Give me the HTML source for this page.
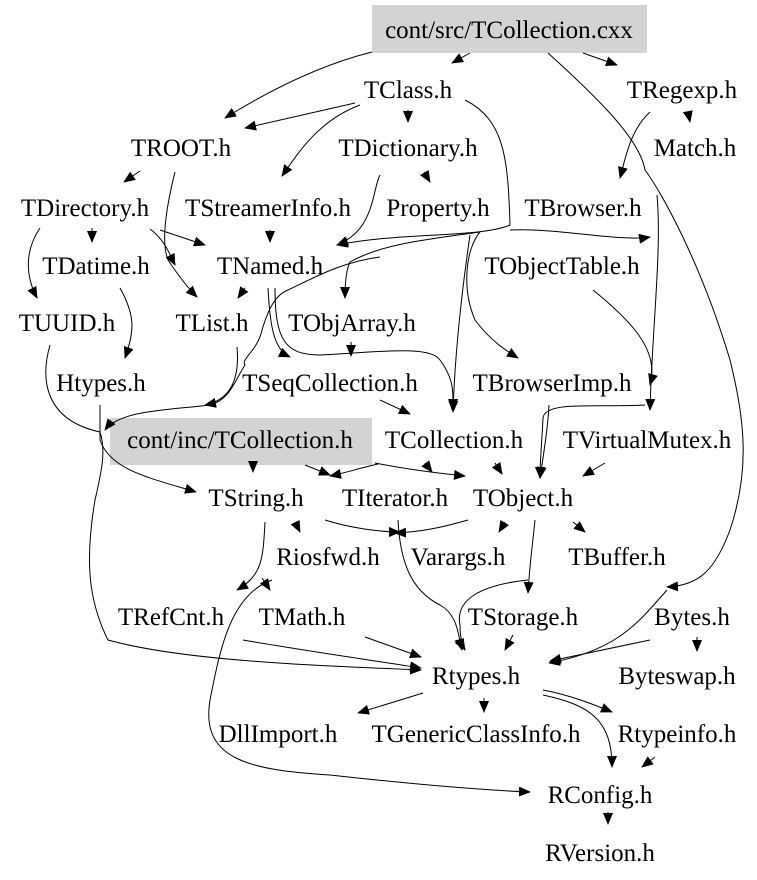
<!DOCTYPE html>
<html><head><meta charset="utf-8"><style>
html,body{margin:0;padding:0;background:#fff;}
svg{display:block;}
text{font-family:"Liberation Serif",serif;font-size:25px;fill:#000;text-anchor:middle;}
path{fill:none;stroke:#000;stroke-width:1;}
</style></head><body>
<svg width="757" height="880" viewBox="0 0 757 880" xmlns="http://www.w3.org/2000/svg">
<defs><marker id="a" markerWidth="12" markerHeight="10" refX="11" refY="5" orient="auto" markerUnits="userSpaceOnUse"><path d="M0,0 L12,5 L0,10 Z" style="fill:#000;stroke:none"/></marker></defs>
<rect x="372" y="5" width="275" height="48" fill="#d3d3d3"/>
<rect x="110" y="418" width="262" height="47" fill="#d3d3d3"/>
<g marker-end="url(#a)">
<path d="M372,52 C320,65 270,90 225,118"/>
<path d="M470,53 L452,63"/>
<path d="M583,53 L617,65"/>
<path d="M548,53 C600,100 640,140 645,170 C660,190 700,260 730,360 C745,420 750,470 730,530 C715,570 700,585 667,587"/>
<path d="M667,590 C640,620 620,650 549,663"/>
<path d="M355,103 L245,128"/>
<path d="M360,105 C320,120 300,150 282,176"/>
<path d="M408,110 L408,122"/>
<path d="M465,100 C505,120 508,160 510,225 C480,238 400,232 337,245"/>
<path d="M380,175 C372,190 375,230 337,245"/>
<path d="M424,172 L430,182"/>
<path d="M688,112 L690,122"/>
<path d="M650,112 C630,130 625,160 620,178"/>
<path d="M140,171 L124,182"/>
<path d="M175,172 C168,200 160,240 168,260 C180,278 190,290 197,297"/>
<path d="M92,228 L92,242"/>
<path d="M40,228 C25,250 25,275 37,298"/>
<path d="M160,230 L205,245"/>
<path d="M150,229 C165,240 170,255 175,265"/>
<path d="M270,230 L270,242"/>
<path d="M245,288 L238,298"/>
<path d="M268,288 C270,330 275,350 290,357"/>
<path d="M275,288 C275,340 285,355 320,355 C380,352 430,345 440,360 C455,380 453,395 453,410"/>
<path d="M351,342 L351,356"/>
<path d="M480,232 C420,240 380,245 350,262 C346,270 345,285 345,298"/>
<path d="M510,230 C560,228 620,242 650,237"/>
<path d="M657,195 C662,250 652,330 650,410"/>
<path d="M480,232 C465,250 462,290 475,320 C490,340 505,350 518,358"/>
<path d="M470,235 C462,290 455,350 453,412"/>
<path d="M380,257 C340,262 310,280 288,290 C275,295 268,310 262,330 C258,350 240,360 245,365 C235,380 230,400 210,405 C170,410 120,410 105,430"/>
<path d="M593,290 C630,320 660,350 650,385"/>
<path d="M645,405 C600,408 545,400 543,418 C542,440 540,460 540,478"/>
<path d="M549,405 C548,425 545,445 540,478"/>
<path d="M50,345 C40,380 45,420 100,432 C106,450 102,470 95,500 C85,560 88,600 108,640 C180,660 300,665 421,670"/>
<path d="M100,405 L100,440 C110,470 150,478 196,492"/>
<path d="M120,288 C135,315 135,330 125,358"/>
<path d="M237,347 C240,380 230,400 205,405"/>
<path d="M380,400 L410,414"/>
<path d="M253,462 L253,472"/>
<path d="M305,465 L330,475"/>
<path d="M378,464 C360,468 345,473 330,476"/>
<path d="M375,463 C400,468 425,472 465,476"/>
<path d="M425,463 L432,472"/>
<path d="M495,463 L502,474"/>
<path d="M605,463 L583,476"/>
<path d="M295,522 L300,532"/>
<path d="M265,522 C263,560 262,575 237,590"/>
<path d="M262,578 L270,590"/>
<path d="M272,580 C230,595 220,650 210,700 C200,760 250,770 330,775 C420,785 480,790 530,792"/>
<path d="M325,520 C350,528 380,532 400,532"/>
<path d="M468,520 C440,528 420,532 395,533"/>
<path d="M398,520 C400,560 410,590 440,605 C458,615 458,635 462,650"/>
<path d="M505,522 L499,532"/>
<path d="M573,522 L585,532"/>
<path d="M535,520 C532,550 530,560 528,593"/>
<path d="M528,580 C480,585 455,600 460,625 C460,638 462,645 465,650"/>
<path d="M513,635 L505,650"/>
<path d="M243,640 C300,650 370,660 421,668"/>
<path d="M365,637 L421,657"/>
<path d="M650,640 L550,661"/>
<path d="M697,637 L697,651"/>
<path d="M423,693 L358,713"/>
<path d="M484,698 L484,712"/>
<path d="M543,690 C570,695 595,705 612,712"/>
<path d="M543,695 C590,705 612,720 612,767"/>
<path d="M655,757 L642,767"/>
<path d="M608,812 L608,824"/>
</g>
<text x="509" y="38">cont/src/TCollection.cxx</text>
<text x="408" y="98">TClass.h</text>
<text x="682" y="98">TRegexp.h</text>
<text x="181" y="156">TROOT.h</text>
<text x="408" y="156">TDictionary.h</text>
<text x="695" y="156">Match.h</text>
<text x="85" y="216">TDirectory.h</text>
<text x="268" y="216">TStreamerInfo.h</text>
<text x="438" y="216">Property.h</text>
<text x="583" y="216">TBrowser.h</text>
<text x="96" y="274">TDatime.h</text>
<text x="270" y="274">TNamed.h</text>
<text x="562" y="274">TObjectTable.h</text>
<text x="67" y="331">TUUID.h</text>
<text x="212" y="331">TList.h</text>
<text x="352" y="331">TObjArray.h</text>
<text x="101" y="391">Htypes.h</text>
<text x="330" y="391">TSeqCollection.h</text>
<text x="552" y="391">TBrowserImp.h</text>
<text x="240" y="448">cont/inc/TCollection.h</text>
<text x="454" y="448">TCollection.h</text>
<text x="647" y="448">TVirtualMutex.h</text>
<text x="256" y="506">TString.h</text>
<text x="395" y="506">TIterator.h</text>
<text x="523" y="506">TObject.h</text>
<text x="328" y="565">Riosfwd.h</text>
<text x="458" y="565">Varargs.h</text>
<text x="617" y="565">TBuffer.h</text>
<text x="171" y="625">TRefCnt.h</text>
<text x="302" y="625">TMath.h</text>
<text x="523" y="625">TStorage.h</text>
<text x="692" y="625">Bytes.h</text>
<text x="476" y="684">Rtypes.h</text>
<text x="677" y="684">Byteswap.h</text>
<text x="278" y="742">DllImport.h</text>
<text x="476" y="742">TGenericClassInfo.h</text>
<text x="677" y="742">Rtypeinfo.h</text>
<text x="600" y="803">RConfig.h</text>
<text x="600" y="861">RVersion.h</text>
</svg>
</body></html>
